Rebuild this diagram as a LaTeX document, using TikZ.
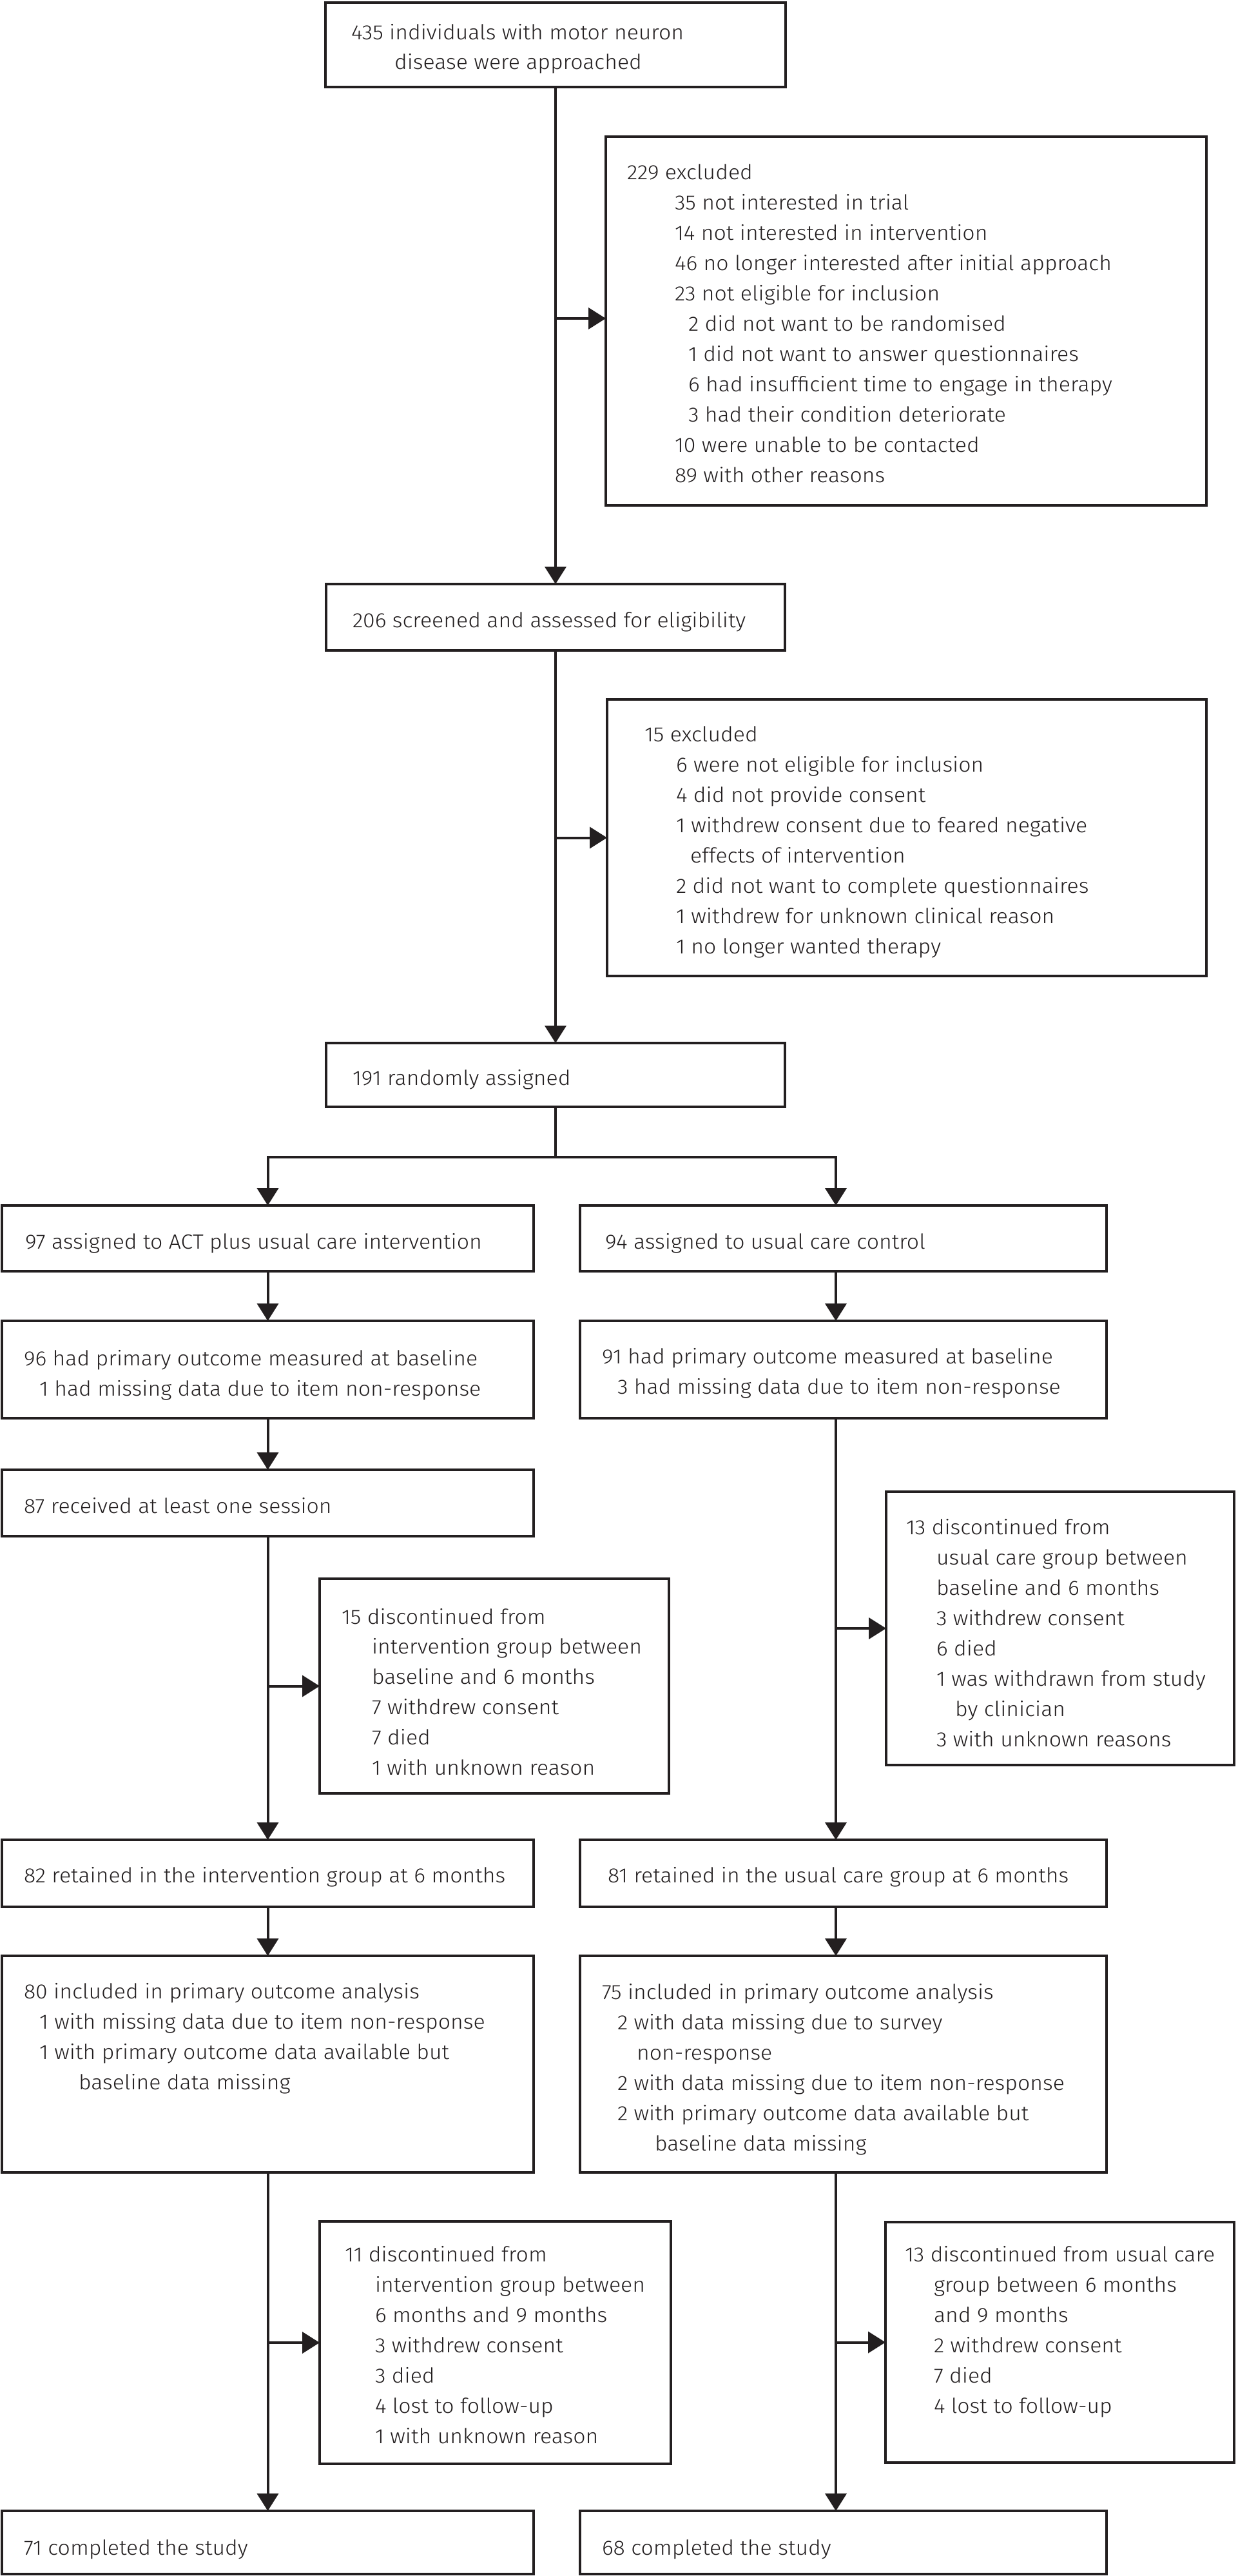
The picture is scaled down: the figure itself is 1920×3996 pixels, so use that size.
\documentclass[tikz,border=0pt]{standalone}
\usepackage{fontspec}
\IfFontExistsTF{Fira Sans Light}{\def\myfam{Fira Sans Light}}{\def\myfam{Fira Sans}}
\newfontfamily\probefont{\myfam}
\newlength\wa \newlength\wb \newlength\wc
\settowidth\wa{\probefont\fontsize{32}{47}\selectfont 435 individuals with motor neuron}
\settowidth\wb{\probefont\fontsize{32}{47}\selectfont 46 no longer interested after initial approach}
\settowidth\wc{\probefont\fontsize{32}{47}\selectfont 97 assigned to ACT plus usual care intervention}
\pgfmathsetmacro\stretchfac{1903/(\wa+\wb+\wc)}
\setmainfont{\myfam}[FakeStretch=\stretchfac]
\usetikzlibrary{arrows.meta}
\definecolor{ink}{RGB}{35,31,32}
\newcommand\mybox[5]{\node[box, minimum width={#4-#2}, minimum height={#5-#3}] (#1) at ({(#2+#4)/2},{(#3+#5)/2}) {};}
\begin{document}
\begin{tikzpicture}[x=1pt,y=-1pt,
  box/.style={draw=ink, line width=4.5pt, inner sep=0pt, outer sep=0pt},
  txt/.style={anchor=base west, inner sep=0pt, outer sep=0pt, text=ink, font=\fontsize{32}{47}\selectfont},
  conn/.style={draw=ink, line width=4pt},
  arr/.style={conn, -{Triangle[length=27pt,width=33pt]}}]
\useasboundingbox (0,0) rectangle (1920,3996);
\fill[white] (0,0) rectangle (1920,3996);
% boxes
\mybox{B1}{505}{4}{1219}{135}
\mybox{B2}{506}{906}{1218}{1009}
\mybox{B3}{506}{1618}{1218}{1717}
\mybox{E1}{940}{212}{1872}{784}
\mybox{E2}{942}{1085}{1872}{1514}
\mybox{L1}{3}{1870}{828}{1972}
\mybox{R1}{900}{1870}{1717}{1972}
\mybox{L2}{3}{2049}{828}{2200}
\mybox{R2}{900}{2049}{1717}{2200}
\mybox{L3}{3}{2280}{828}{2383}
\mybox{E3L}{496}{2449}{1038}{2782}
\mybox{E3R}{1375}{2314}{1915}{2738}
\mybox{L4}{3}{2854}{828}{2958}
\mybox{R4}{900}{2854}{1717}{2958}
\mybox{L5}{3}{3034}{828}{3370}
\mybox{R5}{900}{3034}{1717}{3370}
\mybox{E4L}{496}{3446}{1041}{3822}
\mybox{E4R}{1374}{3447}{1915}{3820}
\mybox{L6}{3}{3895}{828}{3993}
\mybox{R6}{900}{3895}{1717}{3993}
\coordinate (colR) at (1297,0);
\coordinate (split) at (862,1795);
% connectors
\draw[arr] (B1.south) -- (B2.north);
\draw[arr] ([yshift=4pt]B1.south |- E1.west) -- ([yshift=4pt]E1.west);
\draw[arr] (B2.south) -- (B3.north);
\draw[arr] (B2.south |- E2.west) -- (E2.west);
\draw[conn] (B3.south) -- (split);
\draw[arr] (split) -| (L1.north);
\draw[arr] (split) -| (R1.north -| colR);
\draw[arr] (L1.south) -- (L2.north);
\draw[arr] (L2.south) -- (L3.north);
\draw[arr] (L3.south) -- (L4.north);
\draw[arr] (L3.south |- E3L.west) -- (E3L.west);
\draw[arr] (R1.south -| colR) -- (R2.north -| colR);
\draw[arr] (R2.south -| colR) -- (R4.north -| colR);
\draw[arr] (colR |- E3R.west) -- (E3R.west);
\draw[arr] (L4.south) -- (L5.north);
\draw[arr] (R4.south -| colR) -- (R5.north -| colR);
\draw[arr] (L5.south) -- (L6.north);
\draw[arr] (L5.south |- E4L.west) -- (E4L.west);
\draw[arr] (R5.south -| colR) -- (R6.north -| colR);
\draw[arr] (colR |- E4R.west) -- (E4R.west);
% texts
\node[txt] (b1a) at (545,62) {435 individuals with motor neuron};
\node[txt] (b1b) at (612,107) {disease were approached};
\node[txt] (b2a) at (547,973) {206 screened and assessed for eligibility};
\node[txt] (b3a) at (547,1683) {191 randomly assigned};
\foreach \xx/\ss [count=\i from 0] in {973/229 excluded, 1047/35 not interested in trial, 1047/14 not interested in intervention, 1047/46 no longer interested after initial approach, 1047/23 not eligible for inclusion, 1068/2 did not want to be randomised, 1068/1 did not want to answer questionnaires, 1068/6 had insufficient time to engage in therapy, 1068/3 had their condition deteriorate, 1047/10 were unable to be contacted, 1047/89 with other reasons}
  \node[txt] (e1-\i) at (\xx,{278+47*\i}) {\ss};
\foreach \xx/\ss [count=\i from 0] in {1000/15 excluded, 1049/6 were not eligible for inclusion, 1049/4 did not provide consent, 1049/1 withdrew consent due to feared negative, 1071/effects of intervention, 1049/2 did not want to complete questionnaires, 1049/1 withdrew for unknown clinical reason, 1049/1 no longer wanted therapy}
  \node[txt] (e2-\i) at (\xx,{1150+47*\i}) {\ss};
\node[txt] (l1a) at (39,1937) {97 assigned to ACT plus usual care intervention};
\node[txt] (r1a) at (939,1937) {94 assigned to usual care control};
\node[txt] (l2a) at (37,2118) {96 had primary outcome measured at baseline};
\node[txt] (l2b) at (61,2165) {1 had missing data due to item non-response};
\node[txt] (r2a) at (934,2115) {91 had primary outcome measured at baseline};
\node[txt] (r2b) at (958,2162) {3 had missing data due to item non-response};
\node[txt] (l3a) at (37,2347) {87 received at least one session};
\foreach \xx/\ss [count=\i from 0] in {530/15 discontinued from, 577/intervention group between, 577/baseline and 6 months, 577/7 withdrew consent, 577/7 died, 577/1 with unknown reason}
  \node[txt] (e3l-\i) at (\xx,{2519+46.8*\i}) {\ss};
\foreach \xx/\ss [count=\i from 0] in {1406/13 discontinued from, 1453/usual care group between, 1453/baseline and 6 months, 1453/3 withdrew consent, 1453/6 died, 1453/1 was withdrawn from study, 1482/by clinician, 1453/3 with unknown reasons}
  \node[txt] (e3r-\i) at (\xx,{2380+47*\i}) {\ss};
\node[txt] (l4a) at (37,2920) {82 retained in the intervention group at 6 months};
\node[txt] (r4a) at (943,2920) {81 retained in the usual care group at 6 months};
\foreach \xx/\ss [count=\i from 0] in {37/80 included in primary outcome analysis, 61/1 with missing data due to item non-response, 61/1 with primary outcome data available but, 122/baseline data missing}
  \node[txt] (l5-\i) at (\xx,{3100+47*\i}) {\ss};
\foreach \xx/\ss [count=\i from 0] in {934/75 included in primary outcome analysis, 958/2 with data missing due to survey, 988/non-response, 958/2 with data missing due to item non-response, 958/2 with primary outcome data available but, 1016/baseline data missing}
  \node[txt] (r5-\i) at (\xx,{3101+47*\i}) {\ss};
\foreach \xx/\ss [count=\i from 0] in {535/11 discontinued from, 582/intervention group between, 582/6 months and 9 months, 582/3 withdrew consent, 582/3 died, 582/4 lost to follow-up, 582/1 with unknown reason}
  \node[txt] (e4l-\i) at (\xx,{3508+47*\i}) {\ss};
\foreach \xx/\ss [count=\i from 0] in {1404/13 discontinued from usual care, 1449/group between 6 months, 1449/and 9 months, 1449/2 withdrew consent, 1449/7 died, 1449/4 lost to follow-up}
  \node[txt] (e4r-\i) at (\xx,{3508+47*\i}) {\ss};
\node[txt] (l6a) at (37,3963) {71 completed the study};
\node[txt] (r6a) at (934,3963) {68 completed the study};
\end{tikzpicture}
\end{document}
